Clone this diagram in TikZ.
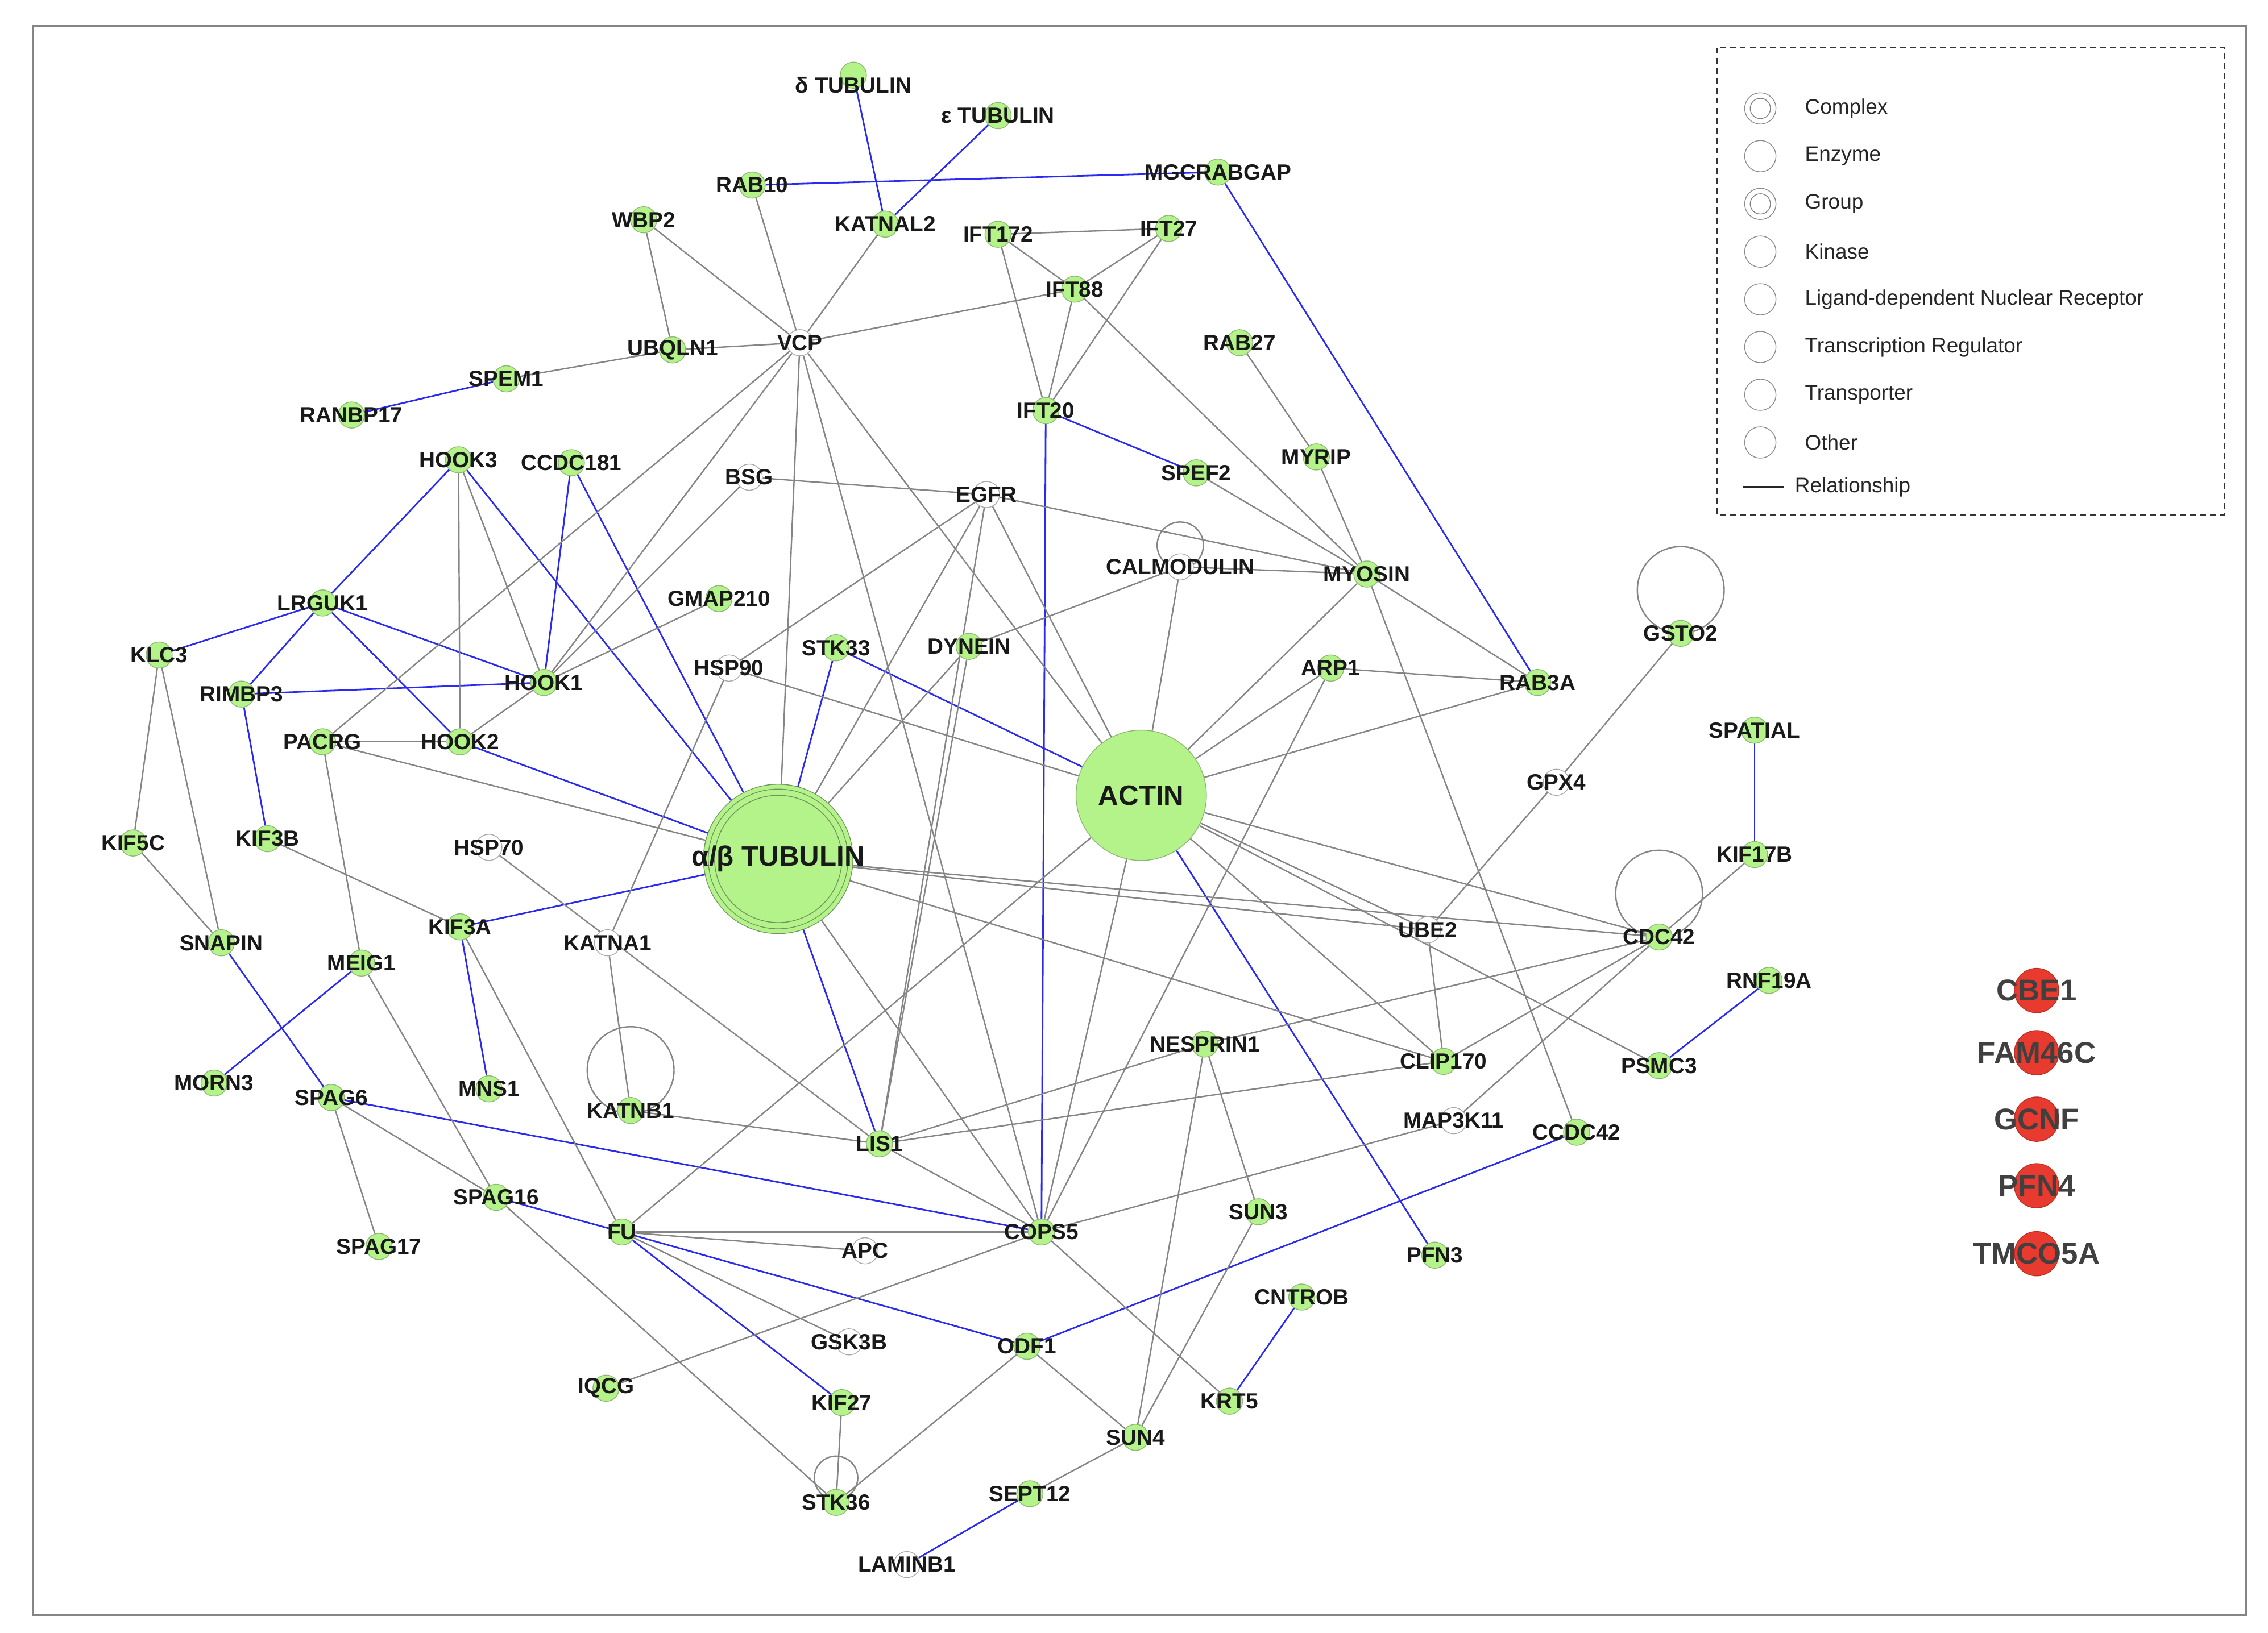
\documentclass[tikz,border=0pt]{standalone}
\usepackage{fontspec}
\setmainfont{Liberation Sans}
\usetikzlibrary{backgrounds}
\definecolor{leaf}{HTML}{B4F28A}
\definecolor{rim}{HTML}{8FB878}
\definecolor{hot}{HTML}{E83A2E}
\definecolor{wire}{HTML}{858585}
\definecolor{cue}{HTML}{2A2AF0}
\tikzset{
  gn/.style={circle,fill=leaf,draw=rim,line width=0.4pt,minimum size=0.46cm,inner sep=0pt},
  wn/.style={circle,fill=white,draw=wire!70,line width=0.4pt,minimum size=0.46cm,inner sep=0pt},
  rn/.style={circle,fill=hot,draw=hot!80!black,minimum size=0.78cm,inner sep=0pt},
  lbl/.style={font=\fontsize{11}{13}\selectfont\bfseries,text=black!90},
  g/.style={draw=wire,line width=0.7pt},
  b/.style={draw=cue,line width=0.8pt},
  key/.style={font=\fontsize{10.5}{12}\selectfont,text=black!85,anchor=west},
}
\begin{document}
\begin{tikzpicture}[x=0.0254cm,y=-0.0254cm]
  \useasboundingbox (0,0) rectangle (1568,1129);
  \draw[wire,line width=0.8pt] (23,18) rectangle (1553,1117);
  % green molecules
  \foreach \n/\x/\y in {dTUB/590/52,eTUB/690/80,RAB10/520/128,MGCRABGAP/842/119,
    WBP2/445/152,KATNAL2/612/155,IFT172/690/162,IFT27/808/158,IFT88/743/200,
    UBQLN1/465/242,RAB27/857/237,SPEM1/350/262,RANBP17/243/287,IFT20/723/284,
    HOOK3/317/318,CCDC181/395/320,MYRIP/910/316,SPEF2/827/327,MYOSIN/945/397,
    GMAP210/497/414,LRGUK1/223/417,GSTO2/1162/438,STK33/578/448,DYNEIN/670/447,
    KLC3/110/453,HOOK1/376/472,ARP1/920/462,RAB3A/1063/472,RIMBP3/167/480,
    PACRG/223/513,HOOK2/318/513,SPATIAL/1213/505,KIF5C/92/583,KIF3B/185/580,
    KIF17B/1213/591,CDC42/1147/648,KIF3A/318/641,SNAPIN/153/652,MEIG1/250/666,
    RNF19A/1223/678,NESPRIN1/833/722,CLIP170/998/734,PSMC3/1147/737,MORN3/148/749,
    SPAG6/229/759,MNS1/338/753,KATNB1/436/768,LIS1/608/791,CCDC42/1090/783,
    SPAG16/343/828,SUN3/870/838,FU/430/852,COPS5/720/852,SPAG17/262/862,
    PFN3/992/868,CNTROB/900/897,ODF1/710/931,IQCG/419/960,KIF27/582/970,
    KRT5/850/969,SUN4/785/994,STK36/578/1039,SEPT12/712/1033}
    \node[gn] (\n) at (\x,\y) {};
  % white molecules
  \foreach \n/\x/\y in {VCP/553/237,BSG/518/330,EGFR/682/342,CALMODULIN/816/392,
    HSP90/504/462,GPX4/1076/541,HSP70/338/586,UBE2/987/643,KATNA1/420/652,
    MAP3K11/1005/775,APC/598/865,GSK3B/587/928,LAMINB1/627/1082}
    \node[wn] (\n) at (\x,\y) {};
  \node[gn,minimum size=2.29cm] (ACTIN) at (789,550) {};
  \node[gn,minimum size=2.54cm,double=leaf,double distance=2pt,draw=rim!80!black] (TUB) at (538,594) {};
  \draw[rim!80!black] (TUB) circle (44);
  % labels
  \foreach \n/\t in {eTUB/ε TUBULIN,RAB10/RAB10,MGCRABGAP/MGCRABGAP,WBP2/WBP2,
    KATNAL2/KATNAL2,IFT172/IFT172,IFT27/IFT27,IFT88/IFT88,UBQLN1/UBQLN1,
    RAB27/RAB27,SPEM1/SPEM1,RANBP17/RANBP17,IFT20/IFT20,HOOK3/HOOK3,
    CCDC181/CCDC181,MYRIP/MYRIP,SPEF2/SPEF2,MYOSIN/MYOSIN,GMAP210/GMAP210,
    LRGUK1/LRGUK1,GSTO2/GSTO2,STK33/STK33,DYNEIN/DYNEIN,KLC3/KLC3,HOOK1/HOOK1,
    ARP1/ARP1,RAB3A/RAB3A,RIMBP3/RIMBP3,PACRG/PACRG,HOOK2/HOOK2,SPATIAL/SPATIAL,
    KIF5C/KIF5C,KIF3B/KIF3B,KIF17B/KIF17B,CDC42/CDC42,KIF3A/KIF3A,SNAPIN/SNAPIN,
    MEIG1/MEIG1,RNF19A/RNF19A,NESPRIN1/NESPRIN1,CLIP170/CLIP170,PSMC3/PSMC3,
    MORN3/MORN3,SPAG6/SPAG6,MNS1/MNS1,KATNB1/KATNB1,LIS1/LIS1,CCDC42/CCDC42,
    SPAG16/SPAG16,SUN3/SUN3,FU/FU,COPS5/COPS5,SPAG17/SPAG17,PFN3/PFN3,
    CNTROB/CNTROB,ODF1/ODF1,IQCG/IQCG,KIF27/KIF27,KRT5/KRT5,SUN4/SUN4,
    STK36/STK36,SEPT12/SEPT12,VCP/VCP,BSG/BSG,EGFR/EGFR,CALMODULIN/CALMODULIN,
    HSP90/HSP90,GPX4/GPX4,HSP70/HSP70,UBE2/UBE2,KATNA1/KATNA1,MAP3K11/MAP3K11,
    APC/APC,GSK3B/GSK3B,LAMINB1/LAMINB1}
    \node[lbl] at (\n) {\t};
  \node[lbl] at ([yshift=-5]dTUB) {δ TUBULIN};
  \node[lbl,font=\fontsize{14}{16}\selectfont\bfseries] at (ACTIN) {ACTIN};
  \node[lbl,font=\fontsize{14}{16}\selectfont\bfseries] at (TUB) {α/β TUBULIN};
  % unconnected molecules
  \foreach \n/\y in {CBE1/685,FAM46C/728,GCNF/774,PFN4/820,TMCO5A/867}{
    \node[rn] (\n) at (1408,\y) {};
    \node[font=\fontsize{15}{17}\selectfont\bfseries,text=black!75] at (\n) {\n};
  }
  \begin{scope}[on background layer]
    \foreach \a/\c in {dTUB/KATNAL2,eTUB/KATNAL2,RAB10/MGCRABGAP,MGCRABGAP/RAB3A,
      RANBP17/SPEM1,IFT20/SPEF2,IFT20/COPS5,HOOK3/LRGUK1,HOOK3/TUB,CCDC181/HOOK1,
      CCDC181/TUB,LRGUK1/KLC3,LRGUK1/RIMBP3,LRGUK1/HOOK1,LRGUK1/HOOK2,RIMBP3/HOOK1,
      RIMBP3/KIF3B,HOOK2/TUB,STK33/TUB,STK33/ACTIN,SPATIAL/KIF17B,KIF3A/TUB,
      KIF3A/MNS1,TUB/LIS1,ACTIN/PFN3,SNAPIN/SPAG6,MEIG1/MORN3,RNF19A/PSMC3,
      SPAG6/COPS5,SPAG16/FU,FU/ODF1,FU/KIF27,ODF1/CCDC42,CNTROB/KRT5,SEPT12/LAMINB1}
      \draw[b] (\a) -- (\c);
    \foreach \a/\c in {WBP2/UBQLN1,WBP2/VCP,RAB10/VCP,KATNAL2/VCP,UBQLN1/VCP,
      SPEM1/UBQLN1,VCP/IFT88,IFT172/IFT27,IFT172/IFT88,IFT172/IFT20,IFT27/IFT88,
      IFT27/IFT20,IFT88/IFT20,IFT88/MYOSIN,VCP/HOOK1,VCP/TUB,VCP/PACRG,VCP/COPS5,
      VCP/ACTIN,RAB27/MYRIP,MYRIP/MYOSIN,SPEF2/MYOSIN,BSG/EGFR,BSG/HOOK1,
      GMAP210/HOOK1,HOOK3/HOOK1,HOOK3/HOOK2,EGFR/MYOSIN,EGFR/HSP90,EGFR/ACTIN,
      EGFR/TUB,EGFR/LIS1,CALMODULIN/MYOSIN,CALMODULIN/ACTIN,CALMODULIN/DYNEIN,
      MYOSIN/ACTIN,MYOSIN/RAB3A,MYOSIN/CCDC42,ARP1/RAB3A,ARP1/ACTIN,ARP1/COPS5,
      RAB3A/ACTIN,GSTO2/GPX4,GPX4/UBE2,HSP90/ACTIN,HSP90/KATNA1,DYNEIN/TUB,
      DYNEIN/LIS1,ACTIN/CDC42,ACTIN/UBE2,ACTIN/CLIP170,ACTIN/COPS5,ACTIN/FU,
      ACTIN/PSMC3,TUB/PACRG,TUB/UBE2,TUB/CLIP170,TUB/COPS5,TUB/CDC42,PACRG/MEIG1,
      PACRG/HOOK2,KIF3B/KIF3A,HSP70/LIS1,KLC3/KIF5C,KLC3/SNAPIN,KIF5C/SNAPIN,
      KIF3A/FU,KATNA1/KATNB1,MEIG1/SPAG16,SPAG6/SPAG16,SPAG6/SPAG17,SPAG16/STK36,
      KATNB1/LIS1,LIS1/NESPRIN1,LIS1/CLIP170,NESPRIN1/CDC42,NESPRIN1/SUN3,
      NESPRIN1/SUN4,UBE2/CLIP170,CDC42/KIF17B,CDC42/MAP3K11,CDC42/CLIP170,
      MAP3K11/COPS5,FU/COPS5,FU/APC,FU/GSK3B,COPS5/IQCG,COPS5/KRT5,COPS5/LIS1,
      SUN3/SUN4,ODF1/SUN4,ODF1/STK36,STK36/KIF27,SUN4/SEPT12,HOOK1/HOOK2}
      \draw[g] (\a) -- (\c);
    % self loops
    \draw[g] (816,377) circle (16);
    \draw[g] (1162,408) circle (30);
    \draw[g] (1147,618) circle (30);
    \draw[g] (436,740) circle (30);
    \draw[g] (578,1022) circle (15);
  \end{scope}
  % legend
  \draw[black!80,dash pattern=on 3pt off 2pt,line width=0.6pt] (1187,33) rectangle (1538,356);
  \foreach \y/\t in {75/Complex,108/Enzyme,141/Group/Complex,174/Kinase,
    207/Ligand-dependent Nuclear Receptor,240/Transcription Regulator,
    273/Transporter,306/Other}{
    \node[circle,draw=black!45,minimum size=0.55cm,inner sep=0pt] (k\y) at (1217,\y) {};
    \node[key] at (1243,\y) {\t};
  }
  \draw[black!50] (k75) circle (7);
  \draw[black!50] (k141) circle (7);
  \coordinate (r1) at (1205,337);
  \coordinate (r2) at (1233,337);
  \draw[black!85,line width=1.2pt] (r1) -- (r2);
  \node[key] at (1236,337) {Relationship};
\end{tikzpicture}
\end{document}
